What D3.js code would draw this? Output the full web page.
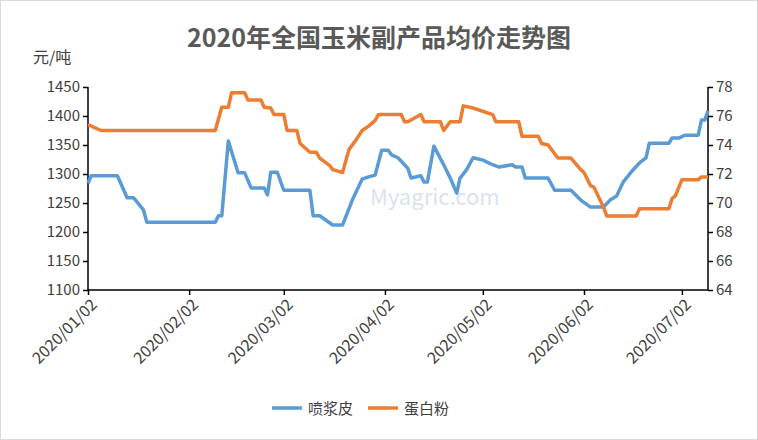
<!DOCTYPE html>
<html><head><meta charset="utf-8">
<script src="https://cdn.jsdelivr.net/npm/d3@7"></script>
<style>body{margin:0;background:#fff}text{font-family:"Noto Sans CJK SC","Noto Sans",sans-serif}</style>
</head><body><svg width="758" height="440"></svg>
<script>
// days after 2020/01/02, value
var blueDays = [0,1,9,12,14,17,18,39,40,41,43,46,48,50,54,55,56,58,60,68,69,71,75,78,81,84,86,88,90,92,93,95,98,99,102,103,104,106,109,111,113,114,116,118,121,124,126,130,131,133,134,141,143,148,151,154,158,160,162,164,167,169,171,172,178,179,181,183,187,188,189,190];
var blueVals = [1284,1297,1297,1259,1259,1238,1217,1217,1228,1228,1357,1302,1302,1276,1276,1264,1303,1303,1272,1272,1228,1228,1212,1212,1255,1291,1295,1298,1341,1341,1333,1328,1310,1293,1297,1286,1286,1348,1316,1293,1267,1293,1307,1328,1324,1316,1312,1316,1312,1312,1293,1293,1272,1272,1255,1243,1243,1255,1262,1286,1307,1319,1328,1353,1353,1362,1362,1367,1367,1393,1393,1409];
var orangeDays = [0,4,39,41,43,44,48,49,53,54,56,57,60,61,64,65,68,70,71,74,75,78,80,82,84,86,88,89,96,97,98,102,103,108,109,111,114,115,118,124,125,132,133,138,139,141,144,148,151,152,154,155,158,159,168,169,178,179,180,182,187,188,190];
var orangeVals = [75.4,75.0,75.0,76.6,76.6,77.6,77.6,77.1,77.1,76.6,76.55,76.1,76.1,75.0,75.0,74.1,73.5,73.5,73.1,72.6,72.3,72.1,73.7,74.3,75.0,75.3,75.7,76.1,76.1,75.6,75.6,76.1,75.6,75.6,75.0,75.6,75.6,76.7,76.55,76.1,75.6,75.6,74.6,74.6,74.1,74.0,73.1,73.1,72.3,72.1,71.2,71.1,69.7,69.1,69.1,69.6,69.6,70.3,70.5,71.6,71.6,71.8,71.8];
var leftTicks = [1100,1150,1200,1250,1300,1350,1400,1450];
var rightTicks = [64,66,68,70,72,74,76,78];
var xTickLabels = ["2020/01/02","2020/02/02","2020/03/02","2020/04/02","2020/05/02","2020/06/02","2020/07/02"];

var start = new Date(2020,0,2);
var parse = d3.timeParse("%Y/%m/%d");
var svg = d3.select("svg");
svg.append("rect").attr("x",0.5).attr("y",0.5).attr("width",757).attr("height",439).attr("fill","#fff").attr("stroke","#d9d9d9");

var x = d3.scaleTime().domain([start, d3.timeDay.offset(start,190)]).range([88,708]);
var yL = d3.scaleLinear().domain([1100,1450]).range([290,87]);
var yR = d3.scaleLinear().domain([64,78]).range([290,87]);

svg.append("text").attr("x",379).attr("y",47).attr("text-anchor","middle").attr("font-size",25).attr("font-weight","bold").attr("fill","#595959").text("2020年全国玉米副产品均价走势图");
svg.append("text").attr("x",33).attr("y",63).attr("font-size",16).attr("fill","#404040").text("元/吨");

// watermark
svg.append("text").attr("x",370).attr("y",205).attr("font-size",22).attr("fill","#c9d6ec").attr("opacity",0.7).attr("font-family","Verdana,sans-serif").text("Myagric.com");

var gl = svg.append("g").attr("transform","translate(88,0)").call(d3.axisLeft(yL).tickValues(leftTicks).tickFormat(d3.format("d")).tickSize(5).tickSizeOuter(0));
var gr = svg.append("g").attr("transform","translate(708,0)").call(d3.axisRight(yR).tickValues(rightTicks).tickSize(5).tickSizeOuter(0));
var gx = svg.append("g").attr("transform","translate(0,290)").call(d3.axisBottom(x).tickValues(xTickLabels.map(parse)).tickFormat(d3.timeFormat("%Y/%m/%d")).tickSize(5).tickSizeOuter(0));
[gl,gr,gx].forEach(function(g){
  g.selectAll("path,line").attr("stroke","#000").attr("stroke-width",1.5);
  g.selectAll("text").attr("font-size",15).attr("fill","#404040").attr("font-family","'Noto Sans CJK SC',sans-serif");
});
gl.select(".domain").attr("d","M0,290V87");
gr.select(".domain").attr("d","M0,290V87");
gx.select(".domain").attr("d","M88,0H708");
gx.selectAll("text").attr("font-size",16).attr("text-anchor","end").attr("dy","0").attr("transform","translate(4,10) rotate(-45)");

var lineL = d3.line().x(function(d){return x(d3.timeDay.offset(start,d[0]));}).y(function(d){return yL(d[1]);});
var lineR = d3.line().x(function(d){return x(d3.timeDay.offset(start,d[0]));}).y(function(d){return yR(d[1]);});
svg.append("path").datum(d3.zip(blueDays,blueVals)).attr("d",lineL).attr("fill","none").attr("stroke","#5B9BD5").attr("stroke-width",3.5).attr("stroke-linejoin","round");
svg.append("path").datum(d3.zip(orangeDays,orangeVals)).attr("d",lineR).attr("fill","none").attr("stroke","#ED7D31").attr("stroke-width",3.5).attr("stroke-linejoin","round");

var legend = [["喷浆皮","#5B9BD5",272],["蛋白粉","#ED7D31",368]];
legend.forEach(function(l){
  svg.append("line").attr("x1",l[2]).attr("x2",l[2]+30).attr("y1",408).attr("y2",408).attr("stroke",l[1]).attr("stroke-width",3.5);
  svg.append("text").attr("x",l[2]+36).attr("y",414).attr("font-size",15).attr("fill","#404040").text(l[0]);
});
</script></body></html>
